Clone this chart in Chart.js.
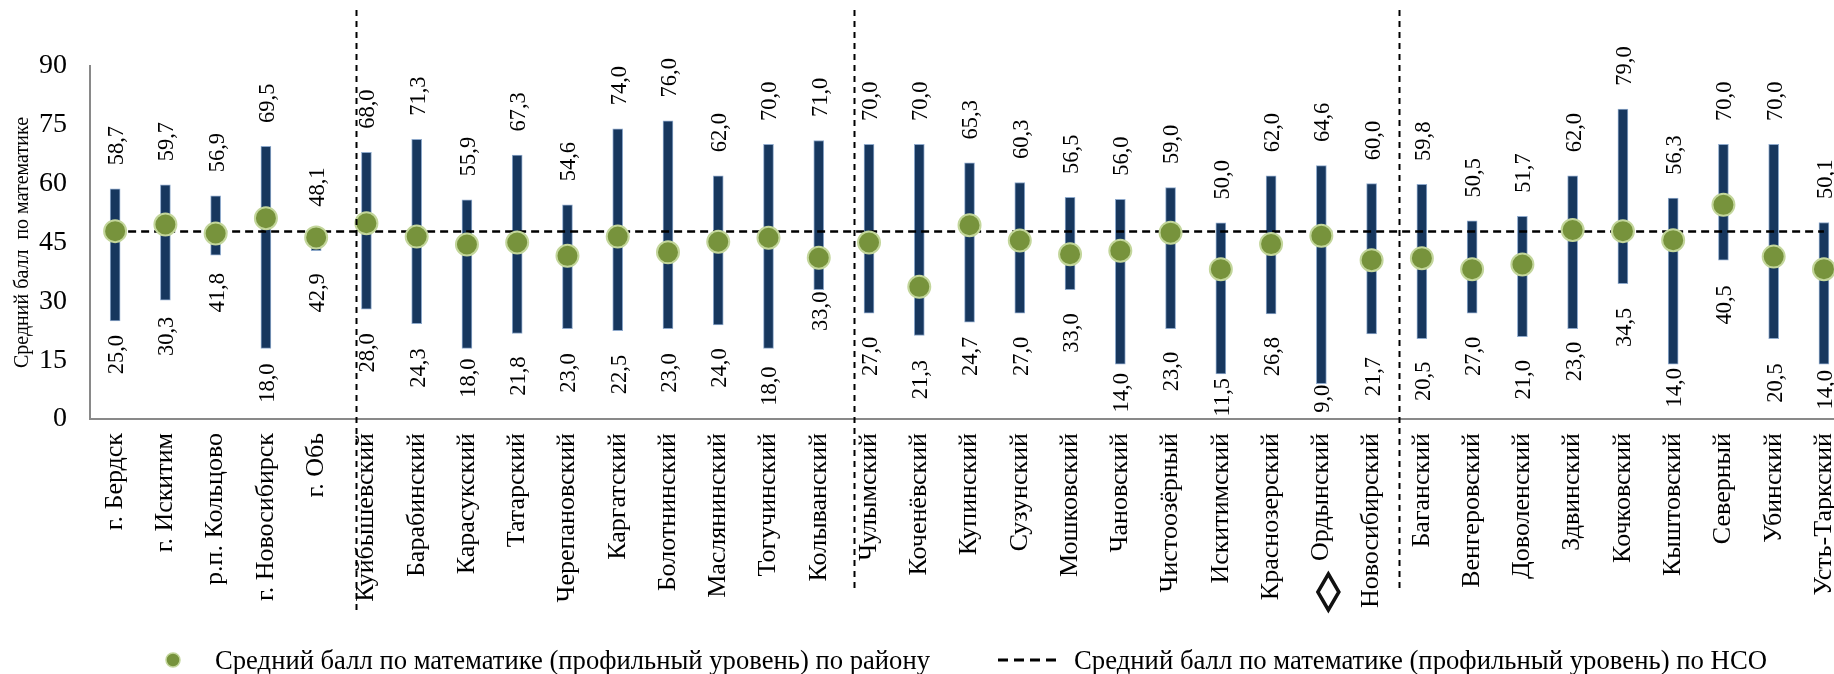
<!DOCTYPE html>
<html>
<head>
<meta charset="utf-8">
<script src="https://cdn.jsdelivr.net/npm/chart.js@4.4.1/dist/chart.umd.min.js"></script>
<style>
html,body{margin:0;padding:0;background:#fff;overflow:hidden;}
canvas{display:block;}
</style>
</head>
<body>
<canvas id="c" width="1834" height="674"></canvas>
<script>
// ---------- DATA ----------
const categories = [
  'г. Бердск','г. Искитим','р.п. Кольцово','г. Новосибирск','г. Обь',
  'Куйбышевский','Барабинский','Карасукский','Татарский','Черепановский','Каргатский','Болотнинский','Маслянинский','Тогучинский','Колыванский',
  'Чулымский','Коченёвский','Купинский','Сузунский','Мошковский','Чановский','Чистоозёрный','Искитимский','Краснозерский','Ордынский','Новосибирский',
  'Баганский','Венгеровский','Доволенский','Здвинский','Кочковский','Кыштовский','Северный','Убинский','Усть-Таркский'
];
const minScores = [
  25.0,30.3,41.8,18.0,42.9,
  28.0,24.3,18.0,21.8,23.0,22.5,23.0,24.0,18.0,33.0,
  27.0,21.3,24.7,27.0,33.0,14.0,23.0,11.5,26.8,9.0,21.7,
  20.5,27.0,21.0,23.0,34.5,14.0,40.5,20.5,14.0
];
const maxScores = [
  58.7,59.7,56.9,69.5,48.1,
  68.0,71.3,55.9,67.3,54.6,74.0,76.0,62.0,70.0,71.0,
  70.0,70.0,65.3,60.3,56.5,56.0,59.0,50.0,62.0,64.6,60.0,
  59.8,50.5,51.7,62.0,79.0,56.3,70.0,70.0,50.1
];
const avgScores = [
  47.9,49.6,47.3,51.2,46.3,
  49.9,46.5,44.5,45.0,41.6,46.5,42.5,45.2,46.2,41.1,
  45.0,33.7,49.4,45.5,42.0,42.9,47.5,38.2,44.6,46.7,40.5,
  41.0,38.2,39.4,48.2,47.9,45.6,54.6,41.4,38.2
];
const nsoAverage = 47.8;
const yTickValues = [0,15,30,45,60,75,90];
const yAxisTitle = 'Средний балл  по математике';
const legendLabels = [
  'Средний балл по математике (профильный уровень) по району',
  'Средний балл по математике (профильный уровень) по НСО'
];
const highlightedCategory = 'Ордынский';

// ---------- LAYOUT / STYLE ----------
const SERIF = "'Liberation Serif','Times New Roman',serif";
const groupSeparators = [4.8, 14.71, 25.55];       // x position, in category units
const separatorBottoms = [610, 592, 592];           // px
const maxLabelGap = 23.5;                           // px above bar top
const minLabelGap = [14,16.5,18,15,22.5, 24,24.6,10,23,24.5,24,24.5,23.5,18,2,
                     23.6,24.5,14.6,23.6,23.7,9,23,4,23,1,23,
                     23,23.6,23.4,13,24,4,25,24.7,6]; // px below bar bottom
const fmt = v => v.toFixed(1).replace('.', ',');

const rangeLabels = {
  id: 'rangeLabels',
  afterDatasetsDraw(chart) {
    const {ctx, scales: {x, y}} = chart;
    ctx.save();
    ctx.font = `22.5px ${SERIF}`;
    ctx.fillStyle = '#000';
    ctx.textBaseline = 'middle';
    categories.forEach((c, i) => {
      const px = x.getPixelForValue(i) + 2;
      const top = y.getPixelForValue(maxScores[i]);
      const bot = y.getPixelForValue(minScores[i]);
      ctx.save(); ctx.translate(px, top - maxLabelGap); ctx.rotate(-Math.PI / 2);
      ctx.textAlign = 'left'; ctx.fillText(fmt(maxScores[i]), 0, 0); ctx.restore();
      ctx.save(); ctx.translate(px, bot + minLabelGap[i]); ctx.rotate(-Math.PI / 2);
      ctx.textAlign = 'right'; ctx.fillText(fmt(minScores[i]), 0, 0); ctx.restore();
    });
    ctx.restore();
  }
};

const decorations = {
  id: 'decorations',
  afterDraw(chart) {
    const {ctx, scales: {x}} = chart;
    ctx.save();
    // group separators
    ctx.strokeStyle = '#000';
    ctx.lineWidth = 2;
    ctx.setLineDash([6, 5]);
    groupSeparators.forEach((p, k) => {
      const px = Math.round(x.getPixelForValue(p)) + 0.5;
      ctx.beginPath(); ctx.moveTo(px, 10); ctx.lineTo(px, separatorBottoms[k]); ctx.stroke();
    });
    ctx.setLineDash([]);
    // diamond marker under highlighted category
    const dx = x.getPixelForValue(categories.indexOf(highlightedCategory)) + 7;
    const dy = 592;
    ctx.beginPath();
    ctx.moveTo(dx, dy - 18); ctx.lineTo(dx + 10.5, dy); ctx.lineTo(dx, dy + 18); ctx.lineTo(dx - 10.5, dy);
    ctx.closePath();
    ctx.fillStyle = '#fff'; ctx.fill();
    ctx.lineWidth = 3.5; ctx.strokeStyle = '#111'; ctx.stroke();

    // legend
    const drawFitted = (text, tx, ty, target) => {
      ctx.font = `28px ${SERIF}`;
      const w = ctx.measureText(text).width;
      ctx.save(); ctx.translate(tx, ty); ctx.scale(target / w, 1);
      ctx.fillStyle = '#000'; ctx.textAlign = 'left'; ctx.textBaseline = 'alphabetic';
      ctx.fillText(text, 0, 0); ctx.restore();
    };
    ctx.beginPath(); ctx.arc(173, 660, 7, 0, Math.PI * 2);
    ctx.fillStyle = '#77933C'; ctx.fill();
    ctx.lineWidth = 1.5; ctx.strokeStyle = '#C3D69B'; ctx.stroke();
    drawFitted(legendLabels[0], 215, 669, 715);
    ctx.beginPath(); ctx.setLineDash([10, 6]); ctx.lineWidth = 3; ctx.strokeStyle = '#000';
    ctx.moveTo(998, 660); ctx.lineTo(1062, 660); ctx.stroke(); ctx.setLineDash([]);
    drawFitted(legendLabels[1], 1074, 669, 693);
    ctx.restore();
  }
};

const idx = categories.map((_, i) => i);

new Chart(document.getElementById('c'), {
  type: 'bar',
  data: {
    datasets: [
      {
        type: 'line',
        label: legendLabels[0],
        data: idx.map(i => ({x: i, y: avgScores[i]})),
        showLine: false,
        pointRadius: 11,
        pointBackgroundColor: '#77933C',
        pointBorderColor: '#C3D69B',
        pointBorderWidth: 2,
        order: 1
      },
      {
        type: 'line',
        label: legendLabels[1],
        data: idx.map(i => ({x: i, y: nsoAverage})),
        borderColor: '#000',
        borderWidth: 2.5,
        borderDash: [8, 5],
        pointRadius: 0,
        order: 2
      },
      {
        type: 'bar',
        label: 'range',
        data: idx.map(i => ({x: i, y: [minScores[i], maxScores[i]]})),
        backgroundColor: '#17375E',
        borderColor: '#8EA9CB',
        borderWidth: 1,
        borderSkipped: false,
        barThickness: 10,
        order: 3
      }
    ]
  },
  options: {
    responsive: false,
    animation: false,
    devicePixelRatio: 1,
    layout: {autoPadding: false, padding: {top: 66, left: 0, right: 0, bottom: 0}},
    plugins: {legend: {display: false}, tooltip: {enabled: false}},
    scales: {
      x: {
        type: 'linear',
        min: -0.5,
        max: 34.2,
        offset: false,
        grid: {display: false, drawTicks: false},
        border: {display: true, color: '#898989', width: 2},
        afterBuildTicks: (axis) => { axis.ticks = idx.map(i => ({value: i})); },
        afterFit: (s) => { s.height = 255; s.paddingLeft = 0; s.paddingRight = 0; },
        ticks: {
          autoSkip: false,
          minRotation: 90,
          maxRotation: 90,
          padding: 14,
          color: '#000',
          font: {family: SERIF, size: 26},
          callback: (v) => categories[v]
        }
      },
      y: {
        min: 0,
        max: 90,
        grid: {display: false, drawTicks: false},
        border: {display: true, color: '#898989', width: 2},
        afterBuildTicks: (axis) => { axis.ticks = yTickValues.map(v => ({value: v})); },
        afterFit: (s) => { s.width = 90; },
        ticks: {
          padding: 23,
          color: '#000',
          font: {family: SERIF, size: 28}
        },
        title: {
          display: true,
          text: yAxisTitle,
          color: '#000',
          font: {family: SERIF, size: 20},
          padding: {top: 11, bottom: 0}
        }
      }
    }
  },
  plugins: [rangeLabels, decorations]
});
</script>
</body>
</html>
